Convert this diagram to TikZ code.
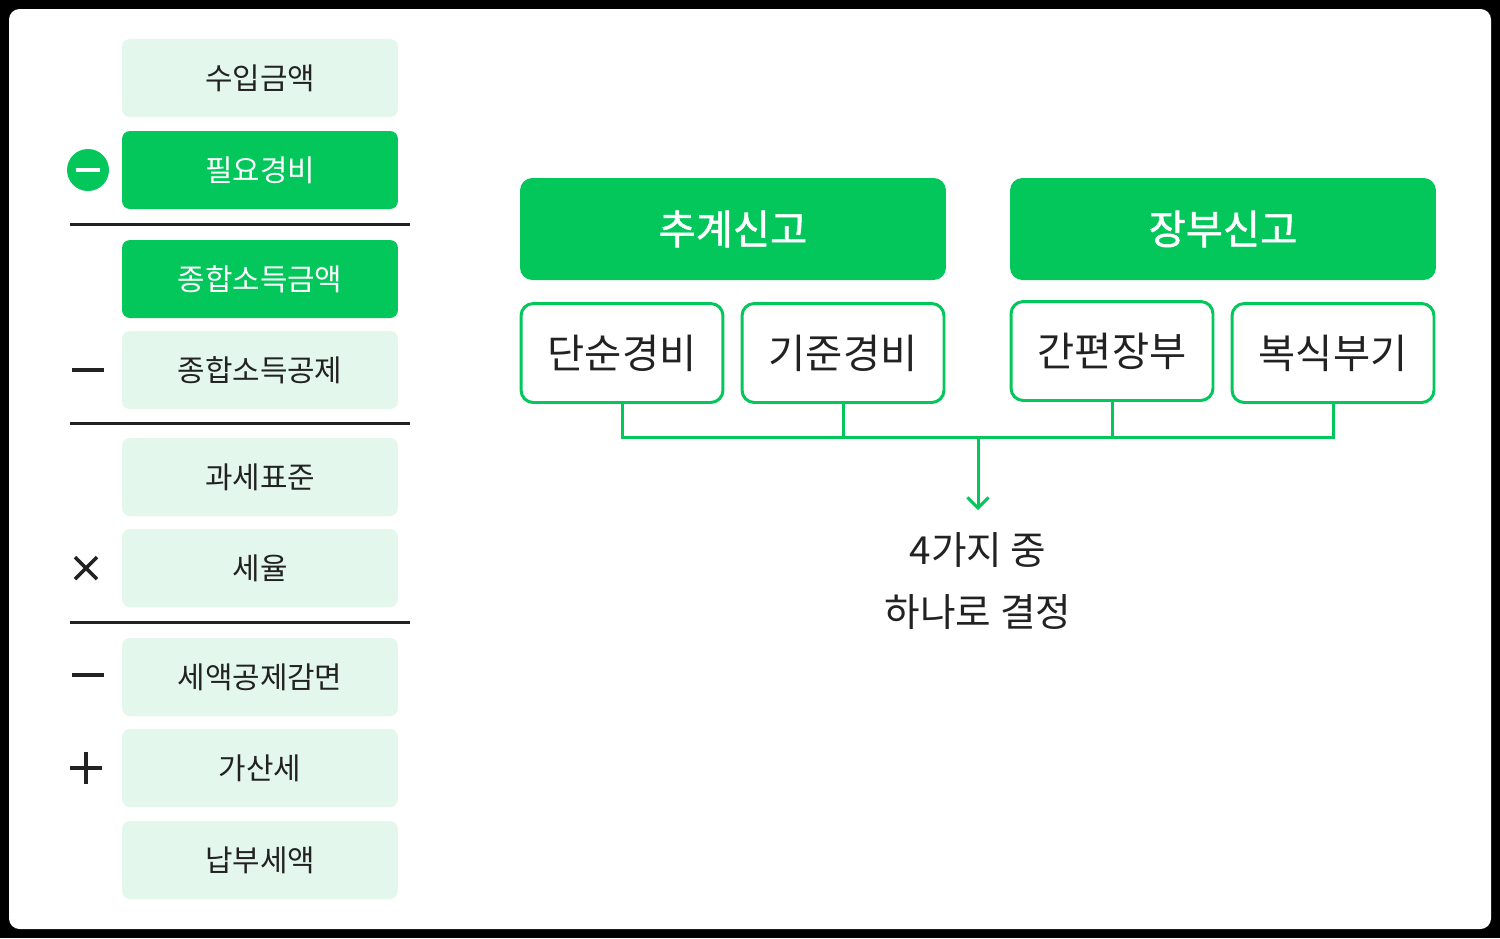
\documentclass[tikz,border=0pt]{standalone}
\usepackage{fontspec}
\setmainfont{Noto Sans CJK KR}
\newfontfamily\headfont{Noto Sans CJK KR}[FakeBold=1.3]
\usetikzlibrary{arrows.meta}

\definecolor{naver}{HTML}{03C75A}
\definecolor{mint}{HTML}{E4F7EC}
\definecolor{ink}{HTML}{222222}

\begin{document}
\begin{tikzpicture}
  [x=0.02cm, y=-0.02cm,
  item/.style={rectangle, rounded corners=4.5pt, fill=mint, text=ink,
    minimum width=5.52cm, minimum height=1.56cm, inner sep=0pt,
    font=\fontsize{17}{20}\selectfont},
  hot/.style={item, fill=naver, text=white},
  head/.style={rectangle, rounded corners=7pt, fill=naver, text=white,
    minimum width=8.52cm, minimum height=2.04cm, inner sep=0pt,
    font=\fontsize{23}{26}\headfont},
  pick/.style={rectangle, rounded corners=7pt, draw=naver, line width=1.7pt,
    fill=white, text=ink, minimum width=4.04cm, minimum height=1.98cm,
    inner sep=0pt, font=\fontsize{23}{26}\selectfont},
  rule/.style={draw=ink, line width=1.7pt},
  sign/.style={draw=ink, line width=2pt},
  link/.style={draw=naver, line width=1.7pt}]
  \useasboundingbox (0,0) rectangle (1500,938);
  \fill[black] (0,0) rectangle (1500,938);
  \fill[white, rounded corners=6pt] (9,9) rectangle (1491,929);

  % left column
  \node[item] (income) at (260,78) {수입금액};
  \node[hot]  (cost)   at (260,170) {필요경비};
  \node[hot]  (total)  at (260,279) {종합소득금액};
  \node[item] (deduct) at (260,370) {종합소득공제};
  \node[item] (base)   at (260,477) {과세표준};
  \node[item] (rate)   at (260,568) {세율};
  \node[item] (credit) at (260,677) {세액공제감면};
  \node[item] (extra)  at (260,768) {가산세};
  \node[item] (due)    at (260,860) {납부세액};

  \draw[rule] (70,224) -- (410,224);
  \draw[rule] (70,423) -- (410,423);
  \draw[rule] (70,622) -- (410,622);

  % signs
  \fill[naver] (88,170) circle (21);
  \draw[draw=white, line width=2pt] (76,170) -- (100,170);
  \draw[sign] (72,370) -- (104,370);
  \draw[sign] (75,557) -- (97,579);
  \draw[sign] (75,579) -- (97,557);
  \draw[sign] (72,675) -- (104,675);
  \draw[sign] (70,768) -- (102,768);
  \draw[sign] (86,752) -- (86,784);

  % right side
  \node[head] (guess) at (733,229) {추계신고};
  \node[head] (book)  at (1223,229) {장부신고};

  \node[pick] (simple) at (622,353) {단순경비};
  \node[pick] (std)    at (843,353) {기준경비};
  \node[pick] (easy)   at (1112,351) {간편장부};
  \node[pick] (double) at (1333,353) {복식부기};

  \coordinate (hub) at (978,437);
  \coordinate (tip) at (978,510);
  \node[text=ink, align=center, font=\fontsize{22}{35}\selectfont] (choice) at (978,581)
    {4가지 중\\하나로 결정};

  \draw[link] (simple.south) |- (double.south |- hub) -- (double.south);
  \draw[link] (std.south) -- (std.south |- hub);
  \draw[link] (easy.south) -- (easy.south |- hub);
  \draw[link, -{Straight Barb[length=6pt, width=12pt]}] (hub) -- (tip);
\end{tikzpicture}
\end{document}
